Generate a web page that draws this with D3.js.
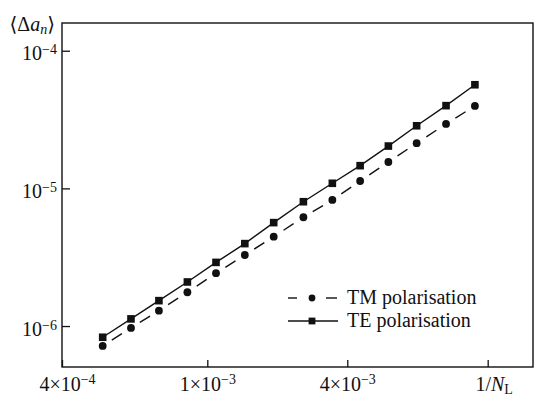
<!DOCTYPE html>
<html>
<head>
<meta charset="utf-8">
<script src="https://cdn.jsdelivr.net/npm/d3@7"></script>
<style>
  html, body { margin: 0; padding: 0; background: #fff; }
  svg text { font-family: "Liberation Serif", "DejaVu Serif", "Noto Serif", Tinos, serif; fill: #111; }
</style>
</head>
<body>
<div id="chart"></div>
<script>
// 1/N_L values (x) and mean perturbation <Δa_n> (y)
const invN = [5.17e-4, 6.18e-4, 7.37e-4, 8.82e-4, 1.09e-3, 1.45e-3, 1.93e-3,
  2.59e-3, 3.45e-3, 4.35e-3, 5.23e-3, 6.29e-3, 7.62e-3, 9.2e-3];
const teValues = [8.29e-7, 1.127e-6, 1.529e-6, 2.09e-6, 2.90e-6, 3.97e-6, 5.64e-6,
  8.0e-6, 1.089e-5, 1.462e-5, 2.03e-5, 2.85e-5, 3.99e-5, 5.66e-5];
const tmValues = [7.17e-7, 9.69e-7, 1.294e-6, 1.76e-6, 2.42e-6, 3.28e-6, 4.46e-6,
  6.17e-6, 8.24e-6, 1.131e-5, 1.555e-5, 2.13e-5, 2.94e-5, 3.97e-5];

// ticks
const xTicks = [4e-4, 1e-3, 4e-3, 1e-2];
const xTickLabels = [['4×10', '−4'], ['1×10', '−3'], ['4×10', '−3'], null];
const yTicks = [1e-6, 1e-5, 1e-4];
const yTickLabels = [['10', '−6'], ['10', '−5'], ['10', '−4']];

const series = [
  { name: 'TM polarisation', values: tmValues, marker: 'circle', dashed: true },
  { name: 'TE polarisation', values: teValues, marker: 'square', dashed: false },
];

const W = 534, H = 397;
const margin = { top: 23, right: 1, bottom: 30, left: 62 };
const w = W - margin.left - margin.right;
const h = H - margin.top - margin.bottom;
const FS = 20;
const SUP = 14;

const svg = d3.select('#chart').append('svg')
  .attr('width', W).attr('height', H)
  .style('display', 'block');

const g = svg.append('g').attr('transform', `translate(${margin.left},${margin.top})`);

// x axis of the original has (nearly) evenly spaced labelled ticks -> piecewise log scale
const x = d3.scaleLog()
  .domain([4e-4, 1e-3, 4e-3, 1e-2, 1.344e-2])
  .range([0, 0.3085, 0.6057, 0.9038, 1].map(f => f * w));
const y = d3.scaleLog().domain([5.04e-7, 1.59e-4]).range([h, 0]);

// frame
g.append('rect')
  .attr('width', w).attr('height', h)
  .attr('fill', 'none').attr('stroke', '#111').attr('stroke-width', 1.4);

// x axis
const xAxis = g.append('g')
  .attr('transform', `translate(0,${h})`)
  .call(d3.axisBottom(x).tickValues(xTicks).tickSizeInner(-7).tickSizeOuter(0).tickPadding(10));
xAxis.attr('font-family', null);
xAxis.select('.domain').remove();
xAxis.selectAll('.tick line').attr('stroke', '#111').attr('stroke-width', 1.3);
xAxis.selectAll('.tick text').each(function (d, i) {
  const t = d3.select(this).text('')
    .attr('font-size', FS).attr('fill', '#111');
  const lab = xTickLabels[i];
  if (lab) {
    if (i === 0) t.attr('dx', 5);
    t.append('tspan').text(lab[0]);
    t.append('tspan').attr('font-size', SUP).attr('dy', -7).text(lab[1]);
  } else {
    t.attr('dx', 6);
    t.append('tspan').text('1/');
    t.append('tspan').attr('font-style', 'italic').text('N');
    t.append('tspan').attr('font-size', SUP).attr('dy', 2.5).text('L');
  }
});

// y axis
const yAxis = g.append('g')
  .call(d3.axisLeft(y).tickValues(yTicks).tickSizeInner(-8).tickSizeOuter(0).tickPadding(5));
yAxis.attr('font-family', null);
yAxis.select('.domain').remove();
yAxis.selectAll('.tick line').attr('stroke', '#111').attr('stroke-width', 1.3);
yAxis.selectAll('.tick text').each(function (d, i) {
  const t = d3.select(this).text('')
    .attr('font-size', FS).attr('fill', '#111').attr('dy', '0.45em');
  t.append('tspan').text(yTickLabels[i][0]);
  t.append('tspan').attr('font-size', SUP).attr('dy', -6).text(yTickLabels[i][1]);
});

// axis titles
const yTitle = svg.append('text')
  .attr('x', 55).attr('y', 31)
  .attr('text-anchor', 'end')
  .attr('font-size', FS);
yTitle.append('tspan').text('⟨');
yTitle.append('tspan').text('Δ');
yTitle.append('tspan').attr('font-style', 'italic').text('a');
yTitle.append('tspan').attr('font-style', 'italic').attr('font-size', SUP).attr('dy', 3).text('n');
yTitle.append('tspan').attr('dy', -3).text('⟩');

// lines and markers
const line = d3.line().x(d => x(d[0])).y(d => y(d[1]));

series.forEach(s => {
  const pts = invN.map((v, i) => [v, s.values[i]]);
  if (s.dashed) {
    // one centred dash between neighbouring points
    const segs = d3.pairs(pts);
    g.append('g').selectAll('line')
      .data(segs)
      .join('line')
      .attr('x1', d => x(d[0][0])).attr('y1', d => y(d[0][1]))
      .attr('x2', d => x(d[1][0])).attr('y2', d => y(d[1][1]))
      .attr('stroke', '#111').attr('stroke-width', 1.4)
      .attr('stroke-dasharray', d => {
        const L = Math.hypot(x(d[1][0]) - x(d[0][0]), y(d[1][1]) - y(d[0][1]));
        const dash = 12;
        return `0,${(L - dash) / 2},${dash},${L}`;
      });
  } else {
    g.append('path').datum(pts)
      .attr('d', line)
      .attr('fill', 'none').attr('stroke', '#111').attr('stroke-width', 1.4);
  }
  const m = g.append('g').selectAll('.m').data(pts);
  if (s.marker === 'circle') {
    m.join('circle')
      .attr('cx', d => x(d[0])).attr('cy', d => y(d[1]))
      .attr('r', 3.9).attr('fill', '#111');
  } else {
    m.join('rect')
      .attr('x', d => x(d[0]) - 3.8).attr('y', d => y(d[1]) - 3.8)
      .attr('width', 7.6).attr('height', 7.6).attr('fill', '#111');
  }
});

// legend
const legend = svg.append('g').attr('transform', 'translate(288,298)');
series.forEach((s, i) => {
  const row = legend.append('g').attr('transform', `translate(0,${i * 23})`);
  if (s.dashed) {
    row.append('line').attr('x1', 0).attr('x2', 9).attr('stroke', '#111').attr('stroke-width', 1.4);
    row.append('line').attr('x1', 38).attr('x2', 49).attr('stroke', '#111').attr('stroke-width', 1.4);
    row.append('circle').attr('cx', 24).attr('r', 3.4).attr('fill', '#111');
  } else {
    row.append('line').attr('x1', 0).attr('x2', 50).attr('stroke', '#111').attr('stroke-width', 1.4);
    row.append('rect').attr('x', 20.6).attr('y', -3.4).attr('width', 6.8).attr('height', 6.8).attr('fill', '#111');
  }
  row.append('text')
    .attr('x', 59).attr('y', 6)
    .attr('font-size', FS)
    .text(s.name);
});
</script>
</body>
</html>
